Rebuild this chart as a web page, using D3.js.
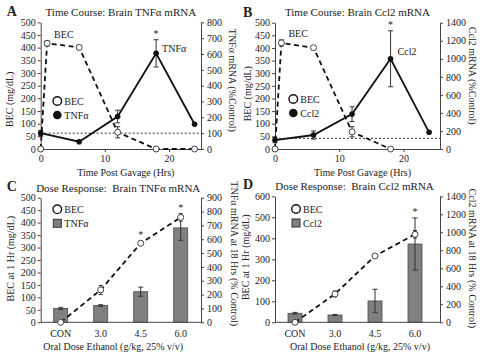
<!DOCTYPE html>
<html><head><meta charset="utf-8">
<script src="https://cdn.jsdelivr.net/npm/d3@7"></script>
<style>
body{margin:0;background:#fff;}
svg text{font-family:"Liberation Serif","Times New Roman",serif;fill:#222;}
.axis path,.axis line{stroke:#444;stroke-width:1;}
.axis text{font-size:10px;fill:#222;font-family:"Liberation Serif",serif;}
</style></head>
<body>
<svg id="c" width="481" height="358"></svg>
<script>
// ---- Panel A: time course, TNFa ----
const becHoursA = [0, 1, 6, 12, 18, 24];
const becTimeA = [0, 417, 401, 66, 0, 0];
const becTimeAErr = [0, 10, 8, 22, 0, 0];
const mrnaHours = [0, 6, 12, 18, 24];
const tnfTime = [100, 46, 205, 604, 156];
const tnfTimeErr = [18, 0, 40, 86, 0];
// ---- Panel B: time course, Ccl2 ----
const becHoursB = [0, 1, 6, 12, 18];
const becTimeB = [0, 420, 401, 68, 0];
const becTimeBErr = [0, 12, 8, 20, 0];
const ccl2Time = [99, 155, 387, 1000, 185];
const ccl2TimeErr = [30, 45, 82, 310, 0];
// ---- Panels C/D: dose response ----
const doseCats = ["CON", "3.0", "4.5", "6.0"];
const becDoseC = [0, 130, 317, 421];
const becDoseCErr = [0, 18, 8, 15];
const tnfDose = [100, 121, 221, 682];
const tnfDoseErr = [8, 6, 33, 90];
const becDoseD = [0, 135, 316, 419];
const becDoseDErr = [0, 14, 8, 18];
const ccl2Dose = [100, 81, 237, 870];
const ccl2DoseErr = [10, 6, 130, 290];
// ---- tick labels ----
const timeTicks = [0, 10, 20];
const becTicksTime = d3.range(0, 501, 50);
const tnfTicksTime = d3.range(0, 801, 100);
const ccl2TicksTime = d3.range(0, 1401, 200);
const becTicksC = d3.range(0, 501, 50);
const tnfTicksC = d3.range(0, 901, 100);
const becTicksD = d3.range(0, 601, 100);
const ccl2TicksD = d3.range(0, 1401, 200);

const svg = d3.select("#c");
const fmt = d3.format("d");

function errBar(g, x, y0, y1, cap) {
  g.append("line").attr("x1", x).attr("x2", x).attr("y1", y0).attr("y2", y1)
    .attr("stroke", "#333").attr("stroke-width", 1);
  [y0, y1].forEach(yy => g.append("line").attr("x1", x - cap).attr("x2", x + cap)
    .attr("y1", yy).attr("y2", yy).attr("stroke", "#333").attr("stroke-width", 1));
}

function axes(g, w, h, yL, yR, tL, tR) {
  g.append("g").attr("class", "axis").call(d3.axisLeft(yL).tickValues(tL).tickFormat(fmt).tickSize(3).tickPadding(2).tickSizeOuter(0));
  g.append("g").attr("class", "axis").attr("transform", `translate(${w},0)`)
    .call(d3.axisRight(yR).tickValues(tR).tickFormat(fmt).tickSize(3).tickPadding(3).tickSizeOuter(0));
}

function timePanel(o) {
  const g = svg.append("g").attr("transform", `translate(${o.left},${o.top})`);
  const w = o.w, h = o.h;
  const x = d3.scaleLinear().domain([0, o.xmax]).range([0, w]);
  const yL = d3.scaleLinear().domain([0, 500]).range([h, 0]);
  const yR = d3.scaleLinear().domain([0, o.rmax]).range([h, 0]);
  g.append("line").attr("x1", 0).attr("x2", w).attr("y1", yR(o.ref)).attr("y2", yR(o.ref))
    .attr("stroke", "#333").attr("stroke-width", 1).attr("stroke-dasharray", "2,2");
  axes(g, w, h, yL, yR, becTicksTime, o.rticks);
  g.append("g").attr("class", "axis").attr("transform", `translate(0,${h})`)
    .call(d3.axisBottom(x).tickValues(timeTicks).tickSize(3).tickPadding(3).tickSizeOuter(0));
  const mr = o.hours2.map((t, i) => [t, o.mrna[i], o.mrnaErr[i]]);
  g.append("path").datum(mr).attr("fill", "none").attr("stroke", "#111").attr("stroke-width", 1.8)
    .attr("d", d3.line().x(d => x(d[0])).y(d => yR(d[1])));
  mr.forEach(d => { if (d[2] > 0) errBar(g, x(d[0]), yR(d[1] - d[2]), yR(d[1] + d[2]), 2.5); });
  const bc = o.hours1.map((t, i) => [t, o.bec[i], o.becErr[i]]);
  g.append("path").datum(bc).attr("fill", "none").attr("stroke", "#111").attr("stroke-width", 1.8)
    .attr("stroke-dasharray", "5,3.5")
    .attr("d", d3.line().x(d => x(d[0])).y(d => yL(d[1])));
  bc.forEach(d => { if (d[2] > 0) errBar(g, x(d[0]), yL(d[1] - d[2]), yL(d[1] + d[2]), 2.5); });
  mr.forEach(d => g.append("circle").attr("cx", x(d[0])).attr("cy", yR(d[1])).attr("r", 2.8).attr("fill", "#111"));
  bc.forEach(d => g.append("circle").attr("cx", x(d[0])).attr("cy", yL(d[1])).attr("r", 3)
    .attr("fill", "#fff").attr("stroke", "#444").attr("stroke-width", 1));
  const star = mr[3];
  g.append("text").attr("x", x(star[0])).attr("y", yR(star[1] + star[2]) - 3).attr("text-anchor", "middle")
    .attr("font-size", 10).text("*");
  g.append("text").attr("x", x(1) + 7).attr("y", yL(bc[1][1]) - 5.5).attr("font-size", 10).text("BEC");
  g.append("text").attr("x", x(18) + o.lblDx).attr("y", yR(star[1]) + o.lblDy).attr("font-size", 10).text(o.name);
  const lg = g.append("g").attr("transform", `translate(${o.legX},${o.legY})`);
  lg.append("circle").attr("cx", 0).attr("cy", 0).attr("r", 4.3).attr("fill", "#fff").attr("stroke", "#111").attr("stroke-width", 1.4);
  lg.append("text").attr("x", 7).attr("y", 3.5).attr("font-size", 10).text("BEC");
  lg.append("circle").attr("cx", 0).attr("cy", 14).attr("r", 4.3).attr("fill", "#111");
  lg.append("text").attr("x", 7).attr("y", 17.5).attr("font-size", 10).text(o.name);
  g.append("text").attr("x", w / 2).attr("y", -6.5).attr("text-anchor", "middle").attr("font-size", 11).text(o.title);
  g.append("text").attr("x", w / 2 + 5).attr("y", h + 27).attr("text-anchor", "middle").attr("font-size", 10).text("Time Post Gavage (Hrs)");
  g.append("text").attr("transform", `translate(${o.lTitleX},${o.lTitleY}) rotate(-90)`).attr("text-anchor", "middle").attr("font-size", 10).text("BEC (mg/dL)");
  g.append("text").attr("transform", `translate(${o.rTitleX},${o.rTitleY}) rotate(90)`).attr("text-anchor", "middle").attr("font-size", 10).text(o.rTitle);
  g.append("text").attr("x", o.letterX).attr("y", -6).attr("font-size", 14).attr("font-weight", "bold").text(o.letter);
}

function dosePanel(o) {
  const g = svg.append("g").attr("transform", `translate(${o.left},${o.top})`);
  const w = o.w, h = o.h;
  const x = d3.scaleBand().domain(doseCats).range([0, 160]).paddingInner(0.65).paddingOuter(0.325);
  const yL = d3.scaleLinear().domain([0, o.lmax]).range([h, 0]);
  const yR = d3.scaleLinear().domain([0, o.rmax]).range([h, 0]);
  doseCats.forEach((c, i) => {
    g.append("rect").attr("x", x(c)).attr("width", x.bandwidth()).attr("y", yR(o.mrna[i]))
      .attr("height", h - yR(o.mrna[i])).attr("fill", "#808080").attr("stroke", "#4a4a4a").attr("stroke-width", 0.8);
  });
  doseCats.forEach((c, i) => errBar(g, x(c) + x.bandwidth() / 2, yR(o.mrna[i] - o.mrnaErr[i]), yR(o.mrna[i] + o.mrnaErr[i]), 2.5));
  axes(g, w, h, yL, yR, o.lticks, o.rticks);
  g.append("line").attr("x1", 0).attr("x2", w).attr("y1", h).attr("y2", h).attr("stroke", "#444");
  doseCats.forEach(c => g.append("text").attr("x", x(c) + x.bandwidth() / 2).attr("y", h + 15).attr("text-anchor", "middle").attr("font-size", 10).text(c));
  const cx = c => x(c) + x.bandwidth() / 2;
  g.append("path").datum(doseCats).attr("fill", "none").attr("stroke", "#111").attr("stroke-width", 1.8)
    .attr("stroke-dasharray", "5,3.5")
    .attr("d", d3.line().x(c => cx(c)).y((c, i) => yL(o.bec[i])));
  doseCats.forEach((c, i) => { if (o.becErr[i] > 0) errBar(g, cx(c), yL(o.bec[i] - o.becErr[i]), yL(o.bec[i] + o.becErr[i]), 2); });
  doseCats.forEach((c, i) => g.append("circle").attr("cx", cx(c)).attr("cy", yL(o.bec[i])).attr("r", 3)
    .attr("fill", "#fff").attr("stroke", "#444").attr("stroke-width", 1));
  o.stars.forEach(i => {
    const top = Math.min(yR(o.mrna[i] + o.mrnaErr[i]), yL(o.bec[i] + o.becErr[i]));
    g.append("text").attr("x", cx(doseCats[i])).attr("y", top - 3).attr("text-anchor", "middle").attr("font-size", 10).text("*");
  });
  const lg = g.append("g").attr("transform", `translate(${o.legX},${o.legY})`);
  lg.append("circle").attr("cx", 0).attr("cy", 0).attr("r", 4.3).attr("fill", "#fff").attr("stroke", "#111").attr("stroke-width", 1.4);
  lg.append("text").attr("x", 7).attr("y", 3.5).attr("font-size", 10).text("BEC");
  lg.append("rect").attr("x", -4).attr("y", 10).attr("width", 8).attr("height", 8).attr("fill", "#808080").attr("stroke", "#333");
  lg.append("text").attr("x", 7).attr("y", 17.5).attr("font-size", 10).text(o.name);
  g.append("text").attr("x", o.titleX).attr("y", -6).attr("text-anchor", "middle").attr("font-size", 11).attr("style", "white-space:pre").text(o.title);
  g.append("text").attr("x", o.xTitleX).attr("y", h + 28).attr("text-anchor", "middle").attr("font-size", 10).text("Oral Dose Ethanol (g/kg, 25% v/v)");
  g.append("text").attr("transform", `translate(${o.lTitleX},${o.lTitleY}) rotate(-90)`).attr("text-anchor", "middle").attr("font-size", 10).text("BEC at 1 Hr (mg/dL)");
  g.append("text").attr("transform", `translate(${o.rTitleX},${o.rTitleY}) rotate(90)`).attr("text-anchor", "middle").attr("font-size", 10).text(o.rTitle);
  g.append("text").attr("x", o.letterX).attr("y", -7).attr("font-size", 14).attr("font-weight", "bold").text(o.letter);
}

timePanel({left: 40.7, top: 22.3, w: 160.3, h: 126.7, xmax: 25, rmax: 800, rticks: tnfTicksTime, ref: 100,
  hours1: becHoursA, bec: becTimeA, becErr: becTimeAErr, hours2: mrnaHours, mrna: tnfTime, mrnaErr: tnfTimeErr,
  name: "TNF\u03b1", lblDx: 6, lblDy: -1, legX: 16.6, legY: 78.7,
  title: "Time Course: Brain TNF\u03b1 mRNA", rTitle: "TNF\u03b1 mRNA (%Control)",
  lTitleX: -28, lTitleY: 77, rTitleX: 188, rTitleY: 58, letter: "A", letterX: -34});

timePanel({left: 275, top: 22.7, w: 165, h: 126.3, xmax: 25.7, rmax: 1400, rticks: ccl2TicksTime, ref: 118,
  hours1: becHoursB, bec: becTimeB, becErr: becTimeBErr, hours2: mrnaHours, mrna: ccl2Time, mrnaErr: ccl2TimeErr,
  name: "Ccl2", lblDx: 7, lblDy: -4, legX: 18.3, legY: 76.3,
  title: "Time Course: Brain Ccl2 mRNA", rTitle: "Ccl2 mRNA (%Control)",
  lTitleX: -24, lTitleY: 71, rTitleX: 194, rTitleY: 53, letter: "B", letterX: -32});

dosePanel({left: 40.7, top: 197.7, w: 160.3, h: 124.6, lmax: 500, rmax: 900, lticks: becTicksC, rticks: tnfTicksC,
  bec: becDoseC, becErr: becDoseCErr, mrna: tnfDose, mrnaErr: tnfDoseErr, stars: [2, 3],
  name: "TNF\u03b1", legX: 16.6, legY: 11.6, title: "Dose Response:  Brain TNF\u03b1 mRNA", titleX: 77.5, xTitleX: 72.5,
  rTitle: "TNF\u03b1 mRNA at 18 Hrs (% Control)", lTitleX: -27, lTitleY: 61, rTitleX: 190, rTitleY: 56,
  letter: "C", letterX: -34});

dosePanel({left: 275, top: 196.3, w: 165, h: 126, lmax: 600, rmax: 1400, lticks: becTicksD, rticks: ccl2TicksD,
  bec: becDoseD, becErr: becDoseDErr, mrna: ccl2Dose, mrnaErr: ccl2DoseErr, stars: [3],
  name: "Ccl2", legX: 21, legY: 12.7, title: "Dose Response:  Brain Ccl2 mRNA", titleX: 79.5, xTitleX: 85,
  rTitle: "Ccl2 mRNA at 18 Hrs (% Control)", lTitleX: -26, lTitleY: 61, rTitleX: 194, rTitleY: 62,
  letter: "D", letterX: -32});
</script>
</body></html>
